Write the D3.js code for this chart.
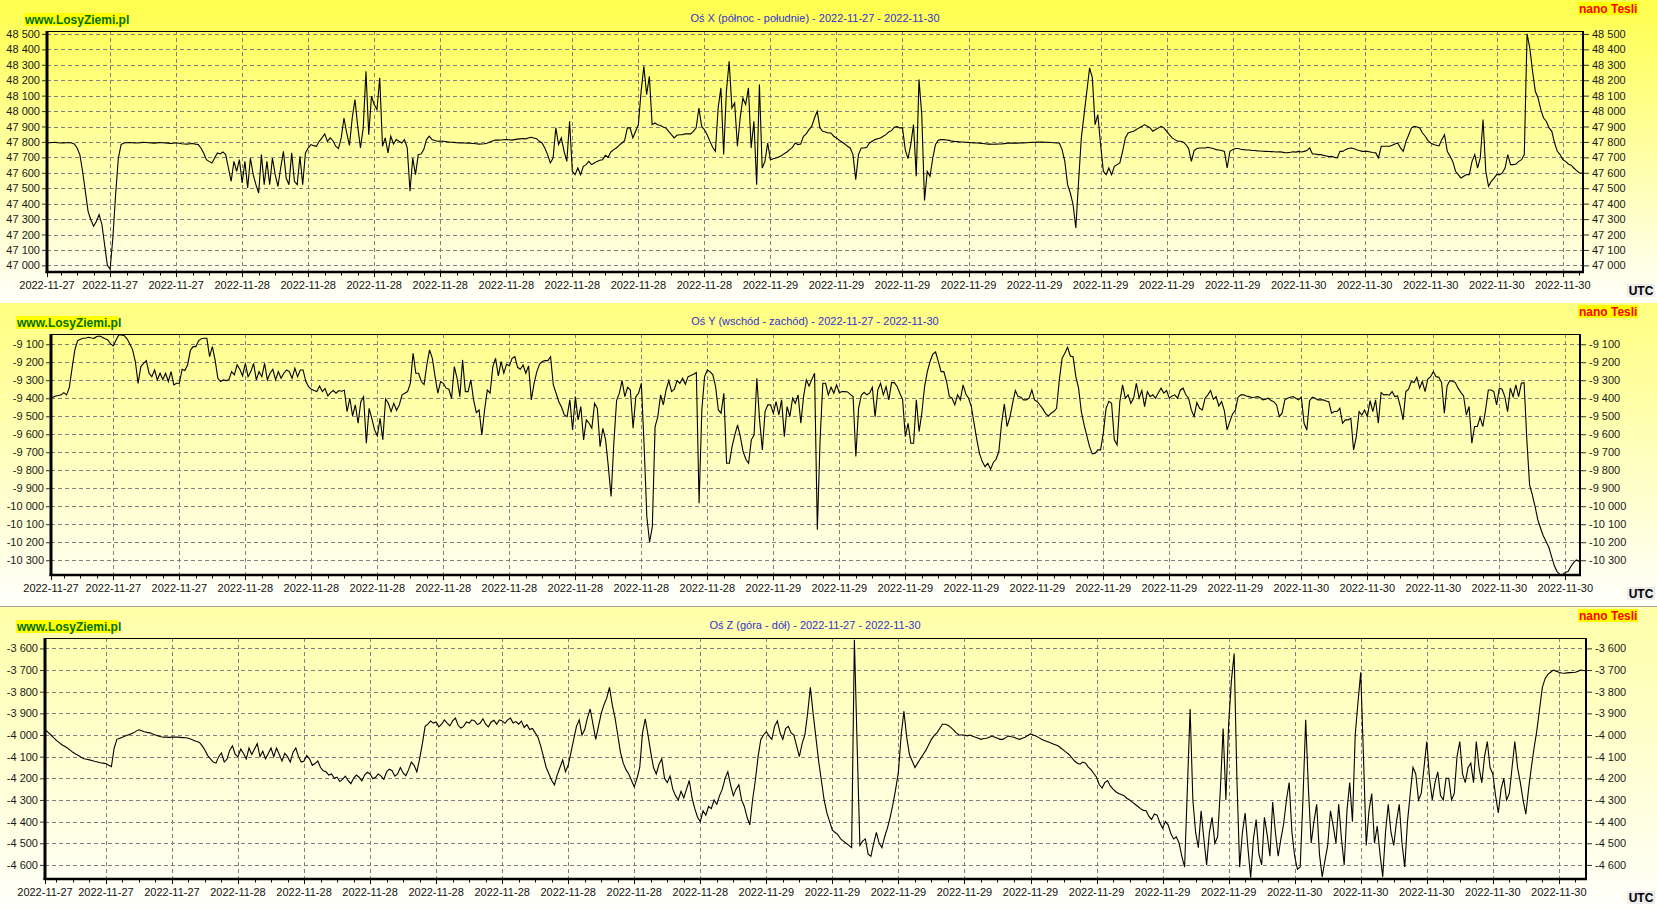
<!DOCTYPE html>
<html>
<head>
<meta charset="utf-8">
<script src="https://cdn.jsdelivr.net/npm/d3@7"></script>
<style>
  body { margin: 0; background: #fff; }
  svg { display: block; font-family: "Liberation Sans", Arial, sans-serif; }
</style>
</head>
<body>
<svg id="chart" width="1657" height="910"></svg>
<script>
// all series start 2022-11-27 15:00 UTC, one value every 7.5 min (one row = one hour)
const dataStart = Date.UTC(2022, 10, 27, 15, 0);
const stepMinutes = 7.5;

const xValues = [
  47795, 47794, 47795, 47796, 47797, 47795, 47793, 47794,
  47795, 47796, 47793, 47787, 47761, 47718, 47610, 47480,
  47350, 47296, 47253, 47285, 47329, 47268, 47134, 47000,
  46975, 47177, 47458, 47696, 47783, 47793, 47795, 47796,
  47795, 47794, 47793, 47795, 47797, 47796, 47795, 47794,
  47792, 47794, 47796, 47795, 47794, 47792, 47790, 47792,
  47795, 47791, 47788, 47787, 47786, 47788, 47790, 47786,
  47783, 47761, 47728, 47685, 47674, 47664, 47696, 47729,
  47722, 47735, 47718, 47631, 47545, 47674, 47610, 47685,
  47534, 47674, 47502, 47696, 47588, 47523, 47469, 47718,
  47523, 47674, 47523, 47696, 47588, 47512, 47631, 47739,
  47566, 47523, 47729, 47545, 47523, 47707, 47523, 47729,
  47761, 47783, 47776, 47772, 47804, 47826, 47852, 47804,
  47826, 47808, 47772, 47757, 47826, 47955, 47858, 47778,
  47955, 48074, 47901, 47761, 47891, 48258, 47847, 48096,
  48042, 48009, 48215, 47772, 47826, 47729, 47837, 47787,
  47815, 47804, 47793, 47815, 47761, 47480, 47696, 47588,
  47718, 47722, 47750, 47815, 47837, 47815, 47809, 47804,
  47805, 47804, 47802, 47800, 47798, 47797, 47795, 47794,
  47793, 47793, 47792, 47791, 47790, 47788, 47786, 47787,
  47788, 47792, 47800, 47806, 47812, 47812, 47813, 47814,
  47815, 47814, 47812, 47815, 47818, 47820, 47822, 47820,
  47826, 47830, 47826, 47821, 47804, 47793, 47761, 47718,
  47664, 47696, 47891, 47783, 47826, 47739, 47674, 47934,
  47610, 47588, 47631, 47588, 47642, 47653, 47674, 47653,
  47664, 47674, 47681, 47685, 47713, 47700, 47735, 47750,
  47761, 47778, 47793, 47808, 47891, 47891, 47826, 47869,
  47912, 48128, 48290, 48107, 48226, 47912, 47923, 47912,
  47906, 47897, 47891, 47869, 47847, 47826, 47843, 47847,
  47847, 47852, 47852, 47852, 47869, 47891, 48020, 47901,
  47880, 47847, 47804, 47765, 47739, 48020, 48150, 47718,
  48128, 48323, 48020, 48053, 47772, 47955, 48085, 48042,
  48150, 47761, 47934, 47523, 48172, 47631, 47674, 47793,
  47685, 47691, 47696, 47702, 47711, 47724, 47735, 47750,
  47765, 47793, 47783, 47787, 47837, 47852, 47880, 47901,
  47955, 47999, 47891, 47869, 47865, 47858, 47858, 47837,
  47826, 47811, 47800, 47787, 47772, 47761, 47718, 47556,
  47718, 47761, 47761, 47765, 47793, 47804, 47815, 47821,
  47826, 47837, 47847, 47865, 47873, 47895, 47899, 47891,
  47891, 47750, 47692, 47783, 47912, 47577, 48204, 47977,
  47420, 47610, 47577, 47696, 47783, 47811, 47815, 47815,
  47813, 47810, 47805, 47803, 47802, 47800, 47800, 47798,
  47797, 47795, 47794, 47793, 47792, 47790, 47788, 47786,
  47786, 47785, 47786, 47787, 47787, 47789, 47791, 47792,
  47792, 47793, 47792, 47793, 47794, 47795, 47796, 47797,
  47798, 47799, 47800, 47799, 47798, 47797, 47796, 47795,
  47793, 47793, 47750, 47674, 47523, 47469, 47393, 47242,
  47545, 47826, 47977, 48128, 48280, 48215, 47912, 47977,
  47783, 47610, 47588, 47631, 47588, 47642, 47653, 47664,
  47739, 47826, 47858, 47865, 47869, 47880, 47891, 47901,
  47912, 47901, 47891, 47869, 47880, 47891, 47901, 47891,
  47869, 47847, 47826, 47815, 47804, 47804, 47800, 47783,
  47757, 47674, 47744, 47757, 47761, 47761, 47761, 47765,
  47761, 47757, 47750, 47748, 47744, 47739, 47631, 47739,
  47750, 47757, 47757, 47753, 47750, 47748, 47748, 47744,
  47744, 47742, 47741, 47740, 47739, 47738, 47737, 47736,
  47735, 47736, 47734, 47730, 47731, 47733, 47736, 47734,
  47739, 47735, 47739, 47744, 47761, 47722, 47722, 47718,
  47718, 47713, 47709, 47705, 47707, 47700, 47696, 47739,
  47739, 47750, 47757, 47761, 47757, 47750, 47744, 47739,
  47739, 47739, 47735, 47731, 47729, 47696, 47772, 47772,
  47772, 47772, 47778, 47787, 47793, 47761, 47739, 47804,
  47847, 47891, 47901, 47897, 47891, 47858, 47837, 47809,
  47793, 47783, 47778, 47774, 47815, 47847, 47739, 47707,
  47674, 47610, 47588, 47566, 47577, 47588, 47588, 47674,
  47718, 47631, 47696, 47945, 47610, 47512, 47545, 47566,
  47588, 47588, 47599, 47631, 47718, 47653, 47653, 47657,
  47674, 47685, 47718, 48500, 48409, 48258, 48128, 48085,
  48009, 47955, 47934, 47891, 47869, 47793, 47739, 47718,
  47685, 47674, 47657, 47649, 47631, 47614, 47599, 47599,
  47600, 47600, 47598
];

const yValues = [
  -9400, -9400, -9394, -9387, -9385, -9381, -9369, -9381,
  -9340, -9233, -9131, -9081, -9072, -9067, -9065, -9061,
  -9065, -9067, -9057, -9054, -9061, -9069, -9076, -9098,
  -9109, -9076, -9048, -9048, -9052, -9070, -9098, -9131,
  -9196, -9317, -9224, -9206, -9191, -9261, -9280, -9243,
  -9298, -9261, -9295, -9261, -9307, -9252, -9326, -9317,
  -9317, -9239, -9246, -9215, -9135, -9113, -9113, -9081,
  -9069, -9067, -9067, -9169, -9113, -9187, -9289, -9307,
  -9298, -9302, -9298, -9252, -9270, -9215, -9239, -9276,
  -9206, -9280, -9252, -9206, -9298, -9252, -9280, -9206,
  -9298, -9261, -9239, -9298, -9252, -9289, -9261, -9243,
  -9252, -9289, -9233, -9280, -9243, -9243, -9307, -9335,
  -9350, -9357, -9363, -9332, -9363, -9346, -9387, -9369,
  -9357, -9372, -9357, -9361, -9355, -9474, -9400, -9498,
  -9437, -9539, -9419, -9391, -9650, -9456, -9513, -9576,
  -9609, -9511, -9631, -9404, -9428, -9474, -9428, -9467,
  -9437, -9381, -9372, -9363, -9317, -9150, -9261, -9261,
  -9307, -9324, -9215, -9131, -9178, -9280, -9372, -9307,
  -9317, -9344, -9350, -9400, -9224, -9289, -9391, -9187,
  -9363, -9363, -9298, -9409, -9480, -9465, -9604, -9465,
  -9354, -9372, -9224, -9178, -9276, -9196, -9261, -9210,
  -9220, -9178, -9169, -9228, -9239, -9215, -9261, -9220,
  -9409, -9317, -9252, -9210, -9196, -9191, -9191, -9169,
  -9326, -9372, -9419, -9450, -9493, -9502, -9409, -9576,
  -9391, -9520, -9446, -9631, -9520, -9539, -9567, -9428,
  -9456, -9669, -9567, -9631, -9780, -9946, -9650, -9413,
  -9372, -9302, -9391, -9339, -9354, -9567, -9391, -9372,
  -9317, -9659, -10057, -10200, -10113, -9557, -9502, -9381,
  -9437, -9354, -9302, -9363, -9350, -9302, -9317, -9289,
  -9322, -9280, -9274, -9267, -9257, -9983, -9465, -9280,
  -9243, -9252, -9270, -9335, -9465, -9483, -9372, -9761,
  -9761, -9669, -9604, -9548, -9613, -9696, -9739, -9761,
  -9631, -9604, -9289, -9520, -9687, -9474, -9437, -9437,
  -9483, -9419, -9493, -9409, -9613, -9446, -9502, -9400,
  -9428, -9381, -9539, -9391, -9298, -9332, -9295, -9261,
  -10131, -9631, -9317, -9317, -9381, -9339, -9372, -9326,
  -9369, -9363, -9363, -9365, -9378, -9391, -9724, -9456,
  -9383, -9367, -9381, -9372, -9339, -9502, -9354, -9317,
  -9381, -9335, -9409, -9313, -9313, -9335, -9372, -9406,
  -9613, -9539, -9650, -9650, -9409, -9585, -9483, -9335,
  -9252, -9196, -9154, -9143, -9196, -9252, -9252, -9307,
  -9391, -9400, -9437, -9381, -9409, -9326, -9376, -9400,
  -9446, -9539, -9631, -9709, -9752, -9780, -9761, -9794,
  -9757, -9739, -9696, -9539, -9432, -9557, -9506, -9428,
  -9357, -9391, -9394, -9409, -9409, -9400, -9354, -9409,
  -9419, -9439, -9459, -9485, -9498, -9483, -9474, -9456,
  -9298, -9178, -9150, -9117, -9165, -9169, -9280, -9344,
  -9474, -9548, -9609, -9669, -9709, -9706, -9687, -9687,
  -9594, -9456, -9417, -9428, -9631, -9659, -9419, -9326,
  -9400, -9381, -9428, -9400, -9317, -9400, -9357, -9446,
  -9363, -9391, -9381, -9400, -9369, -9344, -9372, -9357,
  -9400, -9387, -9381, -9400, -9354, -9344, -9381, -9400,
  -9465, -9502, -9424, -9456, -9465, -9400, -9381, -9357,
  -9406, -9391, -9443, -9419, -9469, -9576, -9530, -9487,
  -9467, -9394, -9381, -9381, -9387, -9391, -9396, -9394,
  -9391, -9396, -9409, -9406, -9400, -9413, -9419, -9437,
  -9502, -9483, -9409, -9400, -9394, -9391, -9400, -9409,
  -9394, -9539, -9576, -9413, -9394, -9400, -9409, -9409,
  -9409, -9415, -9419, -9483, -9474, -9474, -9456, -9539,
  -9520, -9520, -9511, -9687, -9613, -9474, -9493, -9465,
  -9502, -9413, -9474, -9409, -9539, -9369, -9381, -9379,
  -9383, -9363, -9391, -9387, -9446, -9520, -9363, -9350,
  -9307, -9313, -9283, -9344, -9307, -9363, -9293, -9280,
  -9252, -9280, -9283, -9313, -9483, -9332, -9302, -9306,
  -9313, -9344, -9367, -9387, -9493, -9446, -9650, -9557,
  -9557, -9506, -9557, -9465, -9354, -9354, -9363, -9437,
  -9344, -9350, -9391, -9474, -9344, -9391, -9326, -9391,
  -9317, -9313, -9631, -9881, -9937, -10002, -10076, -10122,
  -10165, -10196, -10228, -10280, -10331, -10363, -10378, -10381,
  -10367, -10363, -10335, -10313, -10298, -10307, -10320, -10322,
  -10320, -10318, -10315
];

const zValues = [
  -3976, -3974, -3976, -3988, -4000, -4012, -4025, -4035,
  -4045, -4052, -4060, -4070, -4080, -4088, -4095, -4103,
  -4110, -4112, -4115, -4118, -4122, -4125, -4128, -4130,
  -4132, -4140, -4146, -4060, -4020, -4015, -4010, -4005,
  -4000, -3995, -3990, -3982, -3976, -3980, -3985, -3988,
  -3990, -3995, -4000, -4004, -4008, -4010, -4010, -4011,
  -4010, -4009, -4010, -4011, -4012, -4013, -4015, -4020,
  -4025, -4030, -4034, -4050, -4070, -4095, -4110, -4125,
  -4130, -4100, -4083, -4125, -4112, -4070, -4050, -4090,
  -4100, -4065, -4085, -4110, -4060, -4090, -4065, -4040,
  -4100, -4075, -4110, -4085, -4060, -4100, -4060, -4090,
  -4120, -4085, -4100, -4125, -4080, -4060, -4100, -4125,
  -4120, -4095, -4110, -4140, -4132, -4120, -4150, -4165,
  -4170, -4185, -4180, -4200, -4195, -4215, -4205, -4190,
  -4210, -4225, -4200, -4185, -4195, -4212, -4185, -4172,
  -4180, -4202, -4195, -4180, -4190, -4205, -4170, -4158,
  -4165, -4190, -4180, -4150, -4175, -4188, -4160, -4125,
  -4140, -4170, -4110, -4040, -3960, -3950, -3935, -3945,
  -3940, -3962, -3950, -3930, -3945, -3958, -3935, -3922,
  -3955, -3968, -3960, -3940, -3945, -3930, -3935, -3952,
  -3945, -3925, -3950, -3962, -3940, -3932, -3950, -3930,
  -3935, -3946, -3930, -3922, -3945, -3938, -3950, -3936,
  -3965, -3952, -3975, -3970, -3990, -4010, -4050, -4100,
  -4150, -4180, -4210, -4230, -4185, -4150, -4115, -4170,
  -4140, -4080, -4020, -3960, -3930, -4000, -3975, -3920,
  -3880, -3950, -4020, -3960, -3900, -3860, -3830, -3780,
  -3860, -3920, -4000, -4080, -4130, -4160, -4180, -4210,
  -4240, -4200, -4150, -3990, -3925, -4000, -4080, -4150,
  -4180, -4135, -4110, -4200, -4220, -4190, -4250, -4280,
  -4300, -4260, -4290, -4250, -4210, -4290, -4340, -4380,
  -4400, -4350, -4370, -4330, -4340, -4300, -4320, -4280,
  -4250, -4200, -4170, -4230, -4280, -4250, -4230, -4300,
  -4330, -4380, -4415, -4300, -4210, -4100, -4020, -4000,
  -3985, -4005, -4020, -3960, -3935, -3990, -4020, -3970,
  -3960, -3990, -4000, -4050, -4100, -4040, -4000, -3900,
  -3780, -3900, -4010, -4120, -4210, -4300, -4360, -4400,
  -4440, -4450, -4460, -4480, -4490, -4500, -4510, -4520,
  -3560, -4050, -4510, -4490, -4480, -4550, -4560, -4500,
  -4450, -4500, -4520, -4470, -4430, -4380, -4320, -4250,
  -4170, -4000, -3890, -4010, -4090, -4120, -4150, -4130,
  -4110, -4090, -4070, -4045, -4020, -4002, -3990, -3970,
  -3950, -3950, -3955, -3965, -3976, -3990, -4000, -4000,
  -4000, -4004, -4000, -4006, -4010, -4015, -4020, -4016,
  -4015, -4010, -4005, -4010, -4015, -4020, -4020, -4012,
  -4005, -4008, -4010, -4016, -4020, -4015, -4010, -4002,
  -3995, -4000, -4005, -4012, -4020, -4025, -4030, -4035,
  -4040, -4045, -4050, -4060, -4070, -4080, -4090, -4105,
  -4120, -4130, -4135, -4125, -4130, -4148, -4160, -4178,
  -4195, -4230, -4245, -4220, -4210, -4235, -4250, -4262,
  -4270, -4275, -4280, -4292, -4300, -4310, -4320, -4330,
  -4340, -4348, -4350, -4375, -4390, -4365, -4370, -4405,
  -4430, -4400, -4415, -4455, -4480, -4470, -4500, -4560,
  -4610, -4250, -3880, -4300, -4450, -4520, -4350, -4480,
  -4600, -4450, -4380, -4500, -4470, -4250, -3970, -4300,
  -3950, -3750, -3624, -4200, -4610, -4450, -4360, -4520,
  -4659, -4480, -4390, -4550, -4600, -4380, -4460, -4560,
  -4310, -4450, -4560, -4480, -4410, -4300, -4220, -4450,
  -4560, -4620, -4610, -4300, -3930, -4250, -4500, -4400,
  -4320, -4550, -4655, -4580, -4510, -4350, -4420, -4500,
  -4320, -4480, -4600, -4350, -4220, -4400, -4000, -3850,
  -3710, -4100, -4510, -4350, -4270, -4500, -4420, -4550,
  -4655, -4450, -4320, -4450, -4510, -4400, -4320, -4500,
  -4610, -4400, -4270, -4150, -4180, -4300, -4270, -4150,
  -4030, -4200, -4300, -4220, -4170, -4280, -4300, -4200,
  -4200, -4300, -4270, -4100, -4030, -4180, -4220, -4150,
  -4130, -4220, -4030, -4150, -4220, -4100, -4030, -4150,
  -4180, -4280, -4360, -4250, -4200, -4300, -4270, -4150,
  -4030, -4150, -4220, -4300, -4366, -4250, -4150, -4060,
  -3980, -3880, -3780, -3740, -3720, -3710, -3700, -3705,
  -3710, -3714, -3715, -3713, -3712, -3711, -3710, -3706,
  -3700, -3702, -3705
];

const xTicks = [47000, 47100, 47200, 47300, 47400, 47500, 47600, 47700, 47800, 47900, 48000, 48100, 48200, 48300, 48400, 48500];
const yTicks = [-9100, -9200, -9300, -9400, -9500, -9600, -9700, -9800, -9900, -10000, -10100, -10200, -10300];
const zTicks = [-3600, -3700, -3800, -3900, -4000, -4100, -4200, -4300, -4400, -4500, -4600];

const titles = [
  "Oś X (północ - południe) - 2022-11-27 - 2022-11-30",
  "Oś Y (wschód - zachód) - 2022-11-27 - 2022-11-30",
  "Oś Z (góra - dół) - 2022-11-27 - 2022-11-30"
];

const W = 1657;
const plotTop = 31, plotBottom = 272;

const panels = [
  { title: titles[0], values: xValues, ticks: xTicks, domain: [46957, 48519],
    top: 0, height: 303, left: 47, right: 1583,
    t0: Date.UTC(2022, 10, 27, 15, 8), t1: Date.UTC(2022, 10, 30, 12, 55),
    bg: "#ffff4d", wwwX: 24 },
  { title: titles[1], values: yValues, ticks: yTicks, domain: [-10382, -9043],
    top: 303, height: 303, left: 51, right: 1580,
    t0: Date.UTC(2022, 10, 27, 15, 10), t1: Date.UTC(2022, 10, 30, 12, 40),
    bg: "#ffff80", wwwX: 16 },
  { title: titles[2], values: zValues, ticks: zTicks, domain: [-4665, -3552],
    top: 607, height: 303, left: 45, right: 1586,
    t0: Date.UTC(2022, 10, 27, 15, 14), t1: Date.UTC(2022, 10, 30, 13, 14),
    bg: "#ffffa8", wwwX: 16 }
];

const fmt = d3.formatLocale({ decimal: ",", thousands: " ", grouping: [3], currency: ["", ""], minus: "-" }).format(",d");
const dateFmt = d3.utcFormat("%Y-%m-%d");

const svg = d3.select("#chart");
const defs = svg.append("defs");

svg.append("rect").attr("width", W).attr("height", 910).attr("fill", "#fff");

panels.forEach((p, i) => {
  const g = svg.append("g").attr("transform", `translate(0,${p.top})`);

  const grad = defs.append("linearGradient").attr("id", "bg" + i)
    .attr("x1", 0).attr("y1", 0).attr("x2", 0).attr("y2", 1);
  grad.append("stop").attr("offset", 0).attr("stop-color", p.bg);
  grad.append("stop").attr("offset", 1).attr("stop-color", "#fffffb");

  g.append("rect").attr("width", W).attr("height", p.height).attr("fill", `url(#bg${i})`);

  const x = d3.scaleUtc().domain([p.t0, p.t1]).range([p.left, p.right]);
  const y = d3.scaleLinear().domain(p.domain).range([plotBottom, plotTop]);

  const major = d3.utcHour.every(3).range(new Date(p.t0), new Date(p.t1));
  const minorStep = 45 * 60000;
  const minor = d3.range(+major[0] - 4 * minorStep, p.t1, minorStep)
    .filter(t => t >= p.t0 && (t - major[0]) % (4 * minorStep) !== 0);

  // grid
  g.append("g").selectAll("line").data(p.ticks).join("line")
    .attr("x1", p.left).attr("x2", p.right)
    .attr("y1", d => Math.round(y(d)) + 0.5).attr("y2", d => Math.round(y(d)) + 0.5)
    .attr("stroke", "#808080").attr("stroke-dasharray", "4,3");
  g.append("g").selectAll("line").data(major).join("line")
    .attr("x1", d => Math.round(x(d)) + 0.5).attr("x2", d => Math.round(x(d)) + 0.5)
    .attr("y1", plotTop).attr("y2", plotBottom)
    .attr("stroke", "#808080").attr("stroke-dasharray", "4,3");

  // data line
  g.append("clipPath").attr("id", "clip" + i).append("rect")
    .attr("x", p.left).attr("y", plotTop).attr("width", p.right - p.left).attr("height", plotBottom - plotTop);

  const line = d3.line()
    .x((d, k) => x(dataStart + k * stepMinutes * 60000))
    .y(d => y(d));

  g.append("path").datum(p.values)
    .attr("clip-path", `url(#clip${i})`)
    .attr("d", line)
    .attr("fill", "none").attr("stroke", "#000").attr("stroke-width", 1.1);

  // frame
  const frame = g.append("g").attr("stroke", "#000");
  frame.append("line").attr("x1", p.left).attr("x2", p.right).attr("y1", plotTop + 0.5).attr("y2", plotTop + 0.5).attr("stroke-width", 1);
  frame.append("line").attr("x1", p.left).attr("x2", p.left).attr("y1", plotTop).attr("y2", plotBottom + 1).attr("stroke-width", 3);
  frame.append("line").attr("x1", p.right).attr("x2", p.right).attr("y1", plotTop).attr("y2", plotBottom + 1).attr("stroke-width", 2);
  frame.append("line").attr("x1", p.left - 1.5).attr("x2", p.right + 1).attr("y1", plotBottom).attr("y2", plotBottom).attr("stroke-width", 2.5);

  // y axes
  const yl = g.append("g").attr("transform", `translate(${p.left - 1},0)`)
    .call(d3.axisLeft(y).tickValues(p.ticks).tickFormat(fmt).tickSize(4).tickPadding(2));
  const yr = g.append("g").attr("transform", `translate(${p.right + 1},0)`)
    .call(d3.axisRight(y).tickValues(p.ticks).tickFormat(fmt).tickSize(5).tickPadding(3));
  [yl, yr].forEach(a => {
    a.select(".domain").remove();
    a.selectAll("text").attr("font-size", 11).attr("font-family", "Liberation Sans, Arial, sans-serif").attr("fill", "#1a1a1a");
    a.selectAll("line").attr("stroke", "#333");
  });

  // x axis ticks and labels
  const xa = g.append("g").attr("stroke", "#000");
  xa.selectAll("line.maj").data([p.t0, ...major]).join("line").attr("class", "maj")
    .attr("x1", d => Math.round(x(d)) + 0.5).attr("x2", d => Math.round(x(d)) + 0.5)
    .attr("y1", plotBottom).attr("y2", plotBottom + 5);
  xa.selectAll("line.min").data(minor).join("line").attr("class", "min")
    .attr("x1", d => Math.round(x(d)) + 0.5).attr("x2", d => Math.round(x(d)) + 0.5)
    .attr("y1", plotBottom).attr("y2", plotBottom + 3.5);

  g.append("g").selectAll("text").data([p.t0, ...major]).join("text")
    .attr("x", d => x(d)).attr("y", 289)
    .attr("text-anchor", "middle").attr("font-size", 11).attr("fill", "#111")
    .text(d => dateFmt(d));

  // labels
  g.append("rect").attr("x", p.wwwX).attr("y", 13).attr("width", 102).attr("height", 13).attr("fill", "#ffff00");
  g.append("text").attr("x", p.wwwX + 1).attr("y", 24).attr("font-size", 12).attr("font-weight", "bold")
    .attr("fill", "#007000").text("www.LosyZiemi.pl");

  g.append("text").attr("x", 815).attr("y", 22).attr("text-anchor", "middle")
    .attr("font-size", 11).attr("fill", "#3333cc").text(p.title);

  g.append("rect").attr("x", 1578).attr("y", 2).attr("width", 60).attr("height", 13).attr("fill", "#ffff00");
  g.append("text").attr("x", 1579).attr("y", 12.5).attr("font-size", 12).attr("font-weight", "bold")
    .attr("fill", "#ff0000").text("nano Tesli");

  g.append("rect").attr("x", 1627).attr("y", 284).attr("width", 28).attr("height", 13).attr("fill", "#ececec");
  g.append("text").attr("x", 1641).attr("y", 295).attr("text-anchor", "middle").attr("font-size", 12)
    .attr("font-weight", "bold").attr("fill", "#000").text("UTC");
});

svg.append("line").attr("x1", 0).attr("x2", W).attr("y1", 606.5).attr("y2", 606.5).attr("stroke", "#a0a0a0");
</script>
</body>
</html>
